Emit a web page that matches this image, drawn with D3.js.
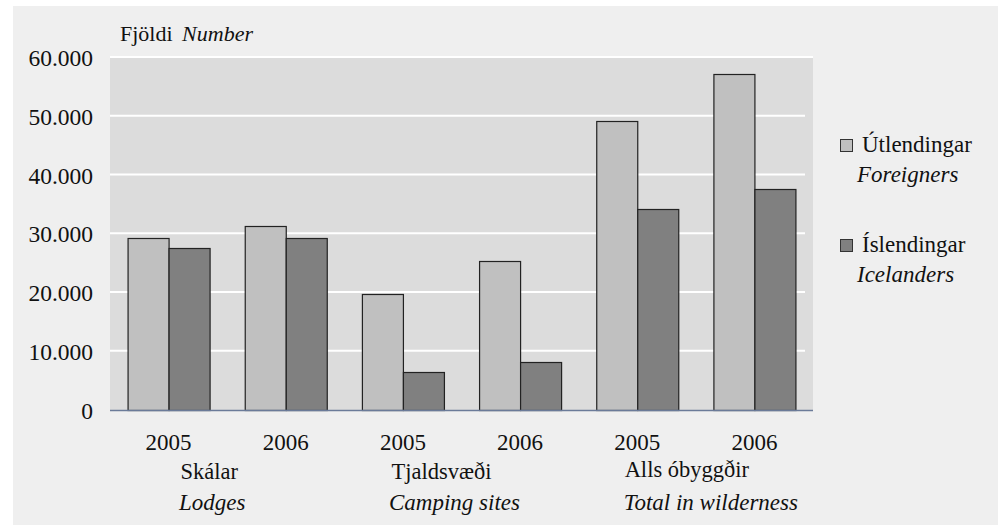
<!DOCTYPE html>
<html>
<head>
<meta charset="utf-8">
<script src="https://cdn.jsdelivr.net/npm/d3@7"></script>
<style>
  body { margin: 0; background: #ffffff; }
  svg { display: block; }
</style>
</head>
<body>
<svg id="chart" width="1002" height="529"></svg>
<script>
// Data
const categoriesIs = ["Skálar", "Tjaldsvæði", "Alls óbyggðir"];
const categoriesEn = ["Lodges", "Camping sites", "Total in wilderness"];
const years = ["2005", "2006"];
const seriesNames = ["Útlendingar", "Íslendingar"];
const seriesNamesEn = ["Foreigners", "Icelanders"];
const foreigners = [29300, 31400, 19900, 25400, 49300, 57200];
const icelanders = [27600, 29300, 6600, 8300, 34300, 37700];
const yTicks = [0, 10000, 20000, 30000, 40000, 50000, 60000];

const SERIF = "Liberation Serif";
const svg = d3.select("#chart");
const colors = ["#c0c0c0", "#808080"];

// outer panel
svg.append("rect")
    .attr("x", 13).attr("y", 6)
    .attr("width", 985).attr("height", 519)
    .attr("fill", "#efefef");

const plot = { left: 110, right: 813, top: 58, bottom: 410.5 };

// one slot per category/year pair
const slots = [];
categoriesIs.forEach((c, ci) => {
    years.forEach((yr, yi) => {
        slots.push({ id: `${ci}-${yi}`, cat: ci, year: yr });
    });
});
slots.forEach((s, i) => { s.values = [foreigners[i], icelanders[i]]; });

const x = d3.scaleBand()
    .domain(slots.map(d => d.id))
    .range([plot.left, plot.right])
    .paddingInner(0.3)
    .paddingOuter(0.15);

const xSub = d3.scaleBand()
    .domain([0, 1])
    .range([0, x.bandwidth()]);

const y = d3.scaleLinear()
    .domain([0, 60000])
    .range([plot.bottom, plot.top]);

const locale = d3.formatLocale({ decimal: ",", thousands: ".", grouping: [3], currency: ["", ""] });
const fmt = locale.format(",");

// plot background
svg.append("rect")
    .attr("x", plot.left).attr("y", plot.top)
    .attr("width", plot.right - plot.left)
    .attr("height", plot.bottom - plot.top)
    .attr("fill", "#dcdcdc");

// gridlines
svg.append("g").selectAll("line")
    .data(yTicks.filter(d => d > 0))
    .enter().append("line")
    .attr("x1", plot.left)
    .attr("x2", d => d === 60000 ? plot.right : plot.right - 8)
    .attr("y1", d => y(d) - 1)
    .attr("y2", d => y(d) - 1)
    .attr("stroke", "#ffffff")
    .attr("stroke-width", 2);

// bars
const groups = svg.append("g").selectAll("g")
    .data(slots)
    .enter().append("g")
    .attr("transform", d => `translate(${x(d.id)},0)`);

groups.selectAll("rect")
    .data(d => d.values.map((v, i) => ({ v, i })))
    .enter().append("rect")
    .attr("x", d => xSub(d.i) + 0.5)
    .attr("y", d => Math.round(y(d.v)) + 0.5)
    .attr("width", xSub.bandwidth())
    .attr("height", d => plot.bottom - Math.round(y(d.v)) - 0.5)
    .attr("fill", d => colors[d.i])
    .attr("stroke", "#222222")
    .attr("stroke-width", 1.2);

// zero axis line
svg.append("line")
    .attr("x1", plot.left).attr("x2", plot.right)
    .attr("y1", plot.bottom).attr("y2", plot.bottom)
    .attr("stroke", "#6b7b99")
    .attr("stroke-width", 1.5);

// y axis labels
const yAxis = d3.axisLeft(y)
    .tickValues(yTicks)
    .tickFormat(fmt)
    .tickSize(0)
    .tickPadding(17);

const yg = svg.append("g")
    .attr("transform", `translate(${plot.left},0)`)
    .call(yAxis);
yg.select(".domain").remove();
yg.selectAll("text")
    .attr("fill", "#111")
    .style("font-family", SERIF)
    .style("font-size", "23.5px");

// y title
const title = svg.append("text")
    .attr("x", 120).attr("y", 41)
    .attr("fill", "#111")
    .style("font-family", SERIF)
    .style("font-size", "22px");
title.append("tspan").text("Fjöldi ");
title.append("tspan").attr("dx", 4).style("font-style", "italic").text("Number");

// year labels
const xAxis = d3.axisBottom(x)
    .tickFormat(id => slots.find(s => s.id === id).year)
    .tickSize(0)
    .tickPadding(23);

const xg = svg.append("g")
    .attr("transform", `translate(0,${plot.bottom})`)
    .call(xAxis);
xg.select(".domain").remove();
xg.selectAll("text")
    .attr("fill", "#111")
    .style("font-family", SERIF)
    .style("font-size", "23px");

// category labels, centred between each pair of years, nudged as in the original
const catCenter = ci => (x(`${ci}-0`) + x(`${ci}-1`) + x.bandwidth()) / 2;
const isOffset = [-18, -20, -9];
const enOffset = [-15, -7, 15];
const isBase = [479, 479, 477];

svg.append("g").selectAll("text")
    .data(categoriesIs)
    .enter().append("text")
    .attr("x", (d, i) => catCenter(i) + isOffset[i])
    .attr("y", (d, i) => isBase[i])
    .attr("text-anchor", "middle")
    .attr("fill", "#111")
    .style("font-family", SERIF)
    .style("font-size", "22.5px")
    .text(d => d);

svg.append("g").selectAll("text")
    .data(categoriesEn)
    .enter().append("text")
    .attr("x", (d, i) => catCenter(i) + enOffset[i])
    .attr("y", 510)
    .attr("text-anchor", "middle")
    .attr("fill", "#111")
    .style("font-family", SERIF)
    .style("font-size", "23px")
    .style("font-style", "italic")
    .text(d => d);

// legend
const legend = svg.append("g").selectAll("g")
    .data(seriesNames)
    .enter().append("g")
    .attr("transform", (d, i) => `translate(840,${139 + i * 100})`);

legend.append("rect")
    .attr("x", 0.5).attr("y", 0.5)
    .attr("width", 12).attr("height", 12)
    .attr("fill", (d, i) => colors[i])
    .attr("stroke", "#333")
    .attr("stroke-width", 1);

legend.append("text")
    .attr("x", 22).attr("y", 12.5)
    .attr("fill", "#111")
    .style("font-family", SERIF)
    .style("font-size", "23px")
    .text(d => d);

legend.append("text")
    .attr("x", 17).attr("y", 43)
    .attr("fill", "#111")
    .style("font-family", SERIF)
    .style("font-size", "23px")
    .style("font-style", "italic")
    .text((d, i) => seriesNamesEn[i]);
</script>
</body>
</html>
